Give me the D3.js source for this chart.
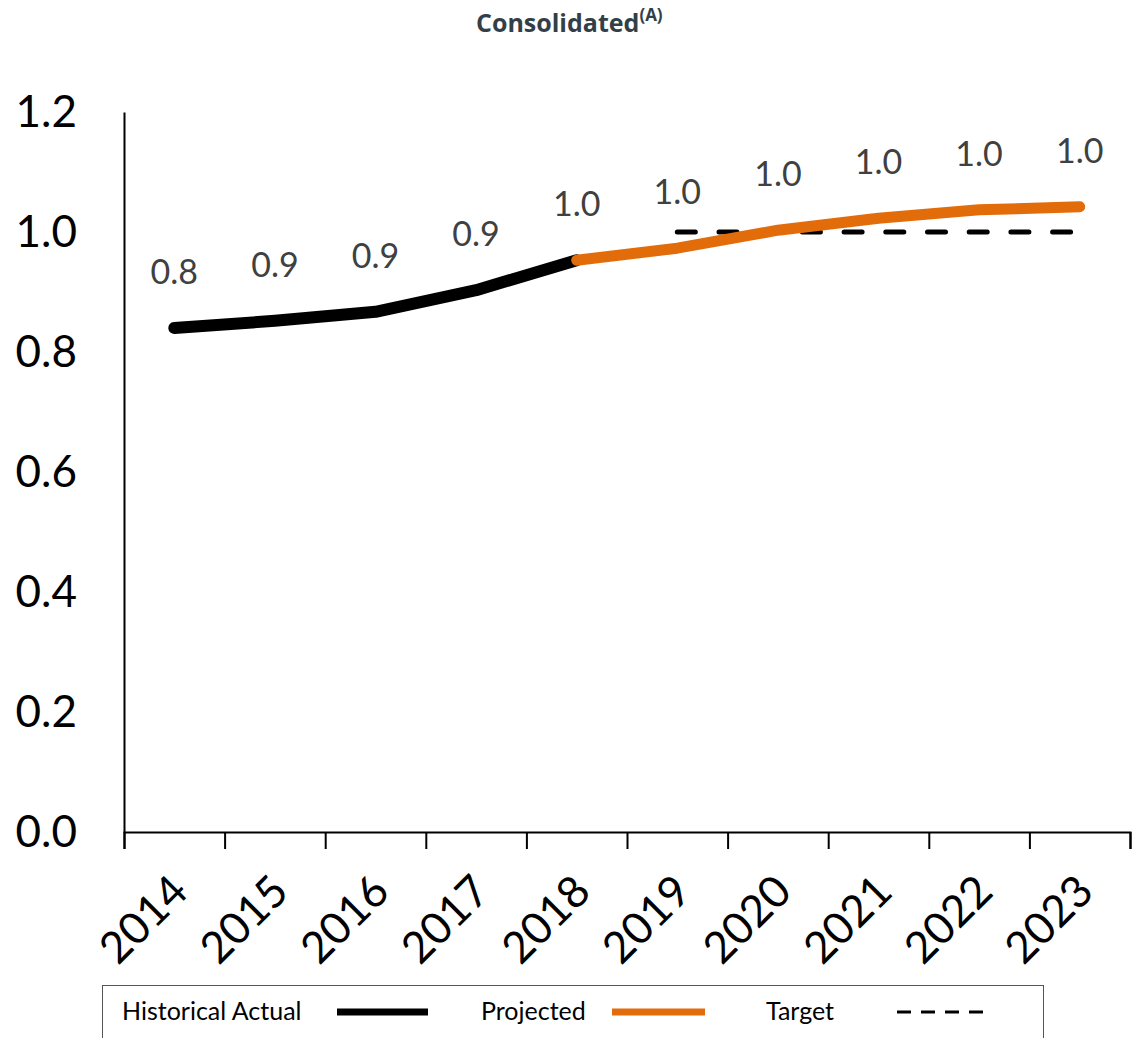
<!DOCTYPE html>
<html>
<head>
<meta charset="utf-8">
<script src="https://cdn.jsdelivr.net/npm/d3@7"></script>
<style>
    body { margin: 0; background: #fff; }
    svg { display: block; }
    .axis path, .axis line { stroke: #000; stroke-width: 2; }
    .axis text { font-family: Lato, "Open Sans", sans-serif; fill: #000; }
</style>
</head>
<body>
<svg id="chart"></svg>
<script>
// chart data
const years = ['2014', '2015', '2016', '2017', '2018', '2019', '2020', '2021', '2022', '2023'];
const historicalYears = ['2014', '2015', '2016', '2017', '2018'];
const historicalValues = [0.84, 0.852, 0.867, 0.903, 0.953];
const projectedYears = ['2018', '2019', '2020', '2021', '2022', '2023'];
const projectedValues = [0.953, 0.973, 1.003, 1.023, 1.037, 1.042];
const targetYears = ['2019', '2020', '2021', '2022', '2023'];
const targetValues = [1.0, 1.0, 1.0, 1.0, 1.0];
const yTicks = [0, 0.2, 0.4, 0.6, 0.8, 1.0, 1.2];

const width = 1132, height = 1038;
const margin = {left: 124, right: 2, top: 112, bottom: 206};

const svg = d3.select('#chart')
    .attr('width', width)
    .attr('height', height);

const xScale = d3.scaleBand()
    .domain(years)
    .range([margin.left, width - margin.right])
    .padding(0);

const yScale = d3.scaleLinear()
    .domain([0, 1.2])
    .range([height - margin.bottom, margin.top]);

// tick marks sit on category boundaries
const xEdges = d3.scaleLinear()
    .domain([0, years.length])
    .range(xScale.range());

// title
const title = svg.append('text')
    .attr('x', 476)
    .attr('y', 32)
    .style('font-family', '"Open Sans", sans-serif')
    .style('font-weight', 'bold')
    .style('font-size', '25px')
    .style('fill', '#333F48');
title.append('tspan').text('Consolidated');
title.append('tspan')
    .attr('dy', -11)
    .style('font-size', '17px')
    .text('(A)');

// y axis
const yAxis = d3.axisLeft(yScale)
    .tickValues(yTicks)
    .tickSize(0)
    .tickPadding(47)
    .tickFormat(d3.format('.1f'));

const yAxisG = svg.append('g')
    .attr('class', 'axis y-axis')
    .attr('transform', `translate(${margin.left},0)`)
    .call(yAxis);
yAxisG.selectAll('text').style('font-size', '44px');

// x axis: line + boundary ticks
svg.append('g')
    .attr('class', 'axis x-axis')
    .attr('transform', `translate(0,${yScale(0)})`)
    .call(d3.axisBottom(xEdges).ticks(years.length).tickSize(17).tickSizeOuter(17).tickFormat(''));

// x labels rotated
svg.append('g')
    .attr('class', 'axis x-labels')
    .selectAll('text')
    .data(years)
    .join('text')
    .attr('text-anchor', 'end')
    .attr('transform', d => `translate(${xScale(d) + xScale.bandwidth() / 2 + 16},894) rotate(-45)`)
    .style('font-size', '44px')
    .text(d => d);

const line = d3.line()
    .x(d => xScale(d[0]) + xScale.bandwidth() / 2)
    .y(d => yScale(d[1]));

const historical = d3.zip(historicalYears, historicalValues);
const projected = d3.zip(projectedYears, projectedValues);
const target = d3.zip(targetYears, targetValues);

svg.append('path')
    .datum(target)
    .attr('d', line)
    .attr('fill', 'none')
    .attr('stroke', '#000')
    .attr('stroke-width', 5)
    .attr('stroke-linecap', 'round')
    .attr('stroke-dasharray', '18 23.7');

svg.append('path')
    .datum(historical)
    .attr('d', line)
    .attr('fill', 'none')
    .attr('stroke', '#000')
    .attr('stroke-width', 12)
    .attr('stroke-linecap', 'round')
    .attr('stroke-linejoin', 'round');

svg.append('path')
    .datum(projected)
    .attr('d', line)
    .attr('fill', 'none')
    .attr('stroke', '#E36C0A')
    .attr('stroke-width', 11)
    .attr('stroke-linecap', 'round')
    .attr('stroke-linejoin', 'round');

// data labels
const labelData = historical.concat(projected.slice(1));
svg.append('g')
    .selectAll('text')
    .data(labelData)
    .join('text')
    .attr('x', d => xScale(d[0]) + xScale.bandwidth() / 2)
    .attr('y', d => yScale(d[1]) - 44)
    .attr('text-anchor', 'middle')
    .style('font-family', 'Lato, "Open Sans", sans-serif')
    .style('font-size', '34px')
    .style('fill', '#404040')
    .text(d => d3.format('.1f')(d[1]));

// legend
const legend = svg.append('g').attr('class', 'legend');
legend.append('rect')
    .attr('x', 102.5)
    .attr('y', 985.5)
    .attr('width', 941)
    .attr('height', 70)
    .attr('fill', 'none')
    .attr('stroke', '#555')
    .attr('stroke-width', 1);

const legendItems = [
    {label: 'Historical Actual', tx: 122, x0: 337, x1: 428, color: '#000', dash: null},
    {label: 'Projected', tx: 481, x0: 612, x1: 705, color: '#E36C0A', dash: null},
    {label: 'Target', tx: 766, x0: 897, x1: 990, color: '#000', dash: '14 10'}
];

legendItems.forEach(item => {
    legend.append('text')
        .attr('x', item.tx)
        .attr('y', 1020)
        .style('font-family', 'Lato, "Open Sans", sans-serif')
        .style('font-size', '25px')
        .style('fill', '#000')
        .text(item.label);
    legend.append('line')
        .attr('x1', item.x0)
        .attr('x2', item.x1)
        .attr('y1', 1012)
        .attr('y2', 1012)
        .attr('stroke', item.color)
        .attr('stroke-width', item.dash ? 3 : 7)
        .attr('stroke-dasharray', item.dash);
});
</script>
</body>
</html>
